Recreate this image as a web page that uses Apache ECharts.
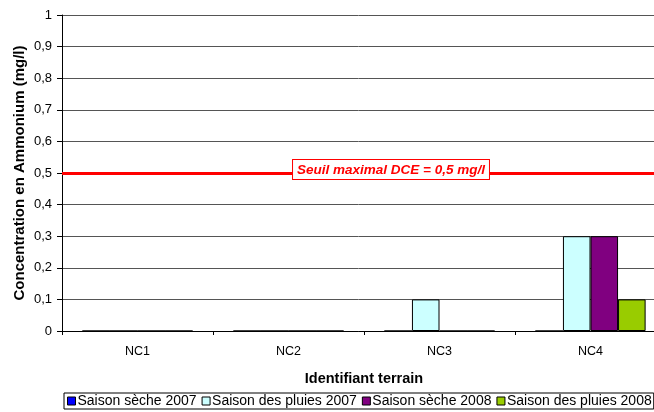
<!DOCTYPE html>
<html>
<head>
<meta charset="utf-8">
<script src="https://cdn.jsdelivr.net/npm/echarts@6/dist/echarts.min.js"></script>
<style>
html,body{margin:0;padding:0;background:#fff;}
#chart{width:654px;height:412px;}
</style>
</head>
<body>
<div id="chart"></div>
<script>
const categories = ['NC1', 'NC2', 'NC3', 'NC4'];
const seriesNames = ['Saison sèche 2007', 'Saison des pluies 2007', 'Saison sèche 2008', 'Saison des pluies 2008'];
const seche2007 = [0, 0, 0, 0];
const pluies2007 = [0, 0, 0.1, 0.3];
const seche2008 = [0, 0, 0, 0.3];
const pluies2008 = [0, 0, 0, 0.1];
const seriesColors = ['#0000ff', '#ccffff', '#800080', '#99cc00'];
const threshold = 0.5;
const thresholdLabel = 'Seuil maximal DCE = 0,5 mg/l';
const yMin = 0, yMax = 1, yStep = 0.1;

const FONT = '"Liberation Sans", Arial, sans-serif';
const chart = echarts.init(document.getElementById('chart'), null, {renderer: 'canvas'});
const values = [seche2007, pluies2007, seche2008, pluies2008];

const series = values.map((v, i) => ({
  name: seriesNames[i],
  type: 'bar',
  data: v,
  barGap: '0%',
  barCategoryGap: '27%',
  itemStyle: {color: seriesColors[i], borderColor: '#000', borderWidth: 1},
  emphasis: {disabled: true},
  animation: false
}));
series[0].markLine = {
  silent: true,
  symbol: ['none', 'none'],
  animation: false,
  lineStyle: {color: '#ff0000', width: 3, type: 'solid'},
  label: {
    show: true,
    position: 'middle',
    formatter: thresholdLabel,
    color: '#ff0000',
    fontFamily: FONT,
    fontSize: 13.5,
    fontWeight: 'bold',
    fontStyle: 'italic',
    backgroundColor: '#fff',
    borderColor: '#ff0000',
    borderWidth: 1,
    padding: [3, 4, 2, 4],
    offset: [27, 11]
  },
  data: [{yAxis: threshold}]
};

chart.setOption({
  animation: false,
  backgroundColor: '#fff',
  textStyle: {fontFamily: FONT},
  grid: {left: 62, top: 15, width: 604, height: 316, containLabel: false, outerBoundsMode: 'none'},
  legend: {
    data: seriesNames,
    left: 64,
    top: 393,
    icon: 'rect',
    itemWidth: 8,
    itemHeight: 8,
    itemGap: 5,
    padding: [1, 2, 1, 3],
    borderColor: '#000',
    borderWidth: 1,
    borderRadius: 0,
    itemStyle: {borderColor: '#000', borderWidth: 1},
    textStyle: {fontFamily: FONT, fontSize: 14, color: '#000', padding: [0, 0, 0, -3]},
    selectedMode: false
  },
  xAxis: {
    type: 'category',
    data: categories,
    name: 'Identifiant terrain',
    nameLocation: 'middle',
    nameGap: 40,
    nameTextStyle: {fontFamily: FONT, fontSize: 14.5, fontWeight: 'bold', color: '#000'},
    axisLine: {lineStyle: {color: '#000', width: 1}},
    axisTick: {show: true, length: 4, lineStyle: {color: '#000'}},
    axisLabel: {fontFamily: FONT, fontSize: 12.5, color: '#000', margin: 14}
  },
  yAxis: {
    type: 'value',
    min: yMin,
    max: yMax,
    interval: yStep,
    name: 'Concentration en Ammonium (mg/l)',
    nameLocation: 'middle',
    nameGap: 35,
    nameMoveOverlap: false,
    nameTextStyle: {fontFamily: FONT, fontSize: 15, fontWeight: 'bold', color: '#000'},
    axisLine: {show: true, lineStyle: {color: '#000', width: 1}},
    axisTick: {show: true, length: 5, lineStyle: {color: '#000'}},
    axisLabel: {
      fontFamily: FONT, fontSize: 13, color: '#000', margin: 10,
      formatter: v => String(Math.round(v * 10) / 10).replace('.', ',')
    },
    splitLine: {show: true, lineStyle: {color: '#555', width: 1}}
  },
  series: series
});
</script>
</body>
</html>
